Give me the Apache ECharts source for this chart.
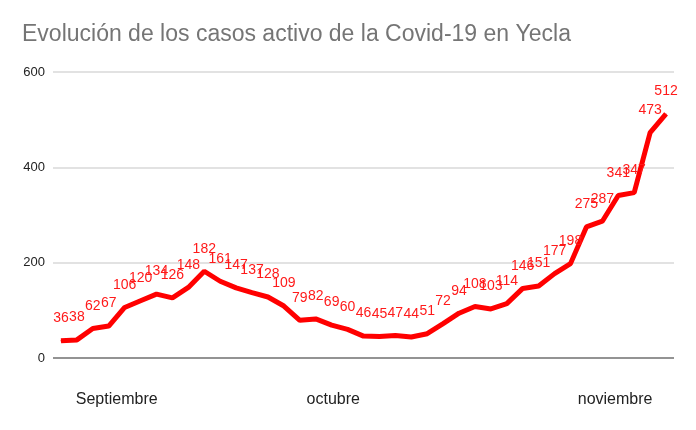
<!DOCTYPE html>
<html>
<head>
<meta charset="utf-8">
<script src="https://cdn.jsdelivr.net/npm/echarts@6/dist/echarts.min.js"></script>
<style>
  html, body { margin: 0; padding: 0; background: #fff; }
  #chart { width: 696px; height: 430px; }
</style>
</head>
<body>
<div id="chart"></div>
<script>
// casos activos, uno por día
const casos = [36, 38, 62, 67, 106, 120, 134, 126, 148, 182, 161, 147, 137, 128, 109,
  79, 82, 69, 60, 46, 45, 47, 44, 51, 72, 94, 108, 103, 114, 146, 151, 177, 198,
  275, 287, 341, 347, 473, 512];
const dias = casos.map((v, i) => 'd' + (i + 1));
const meses = ['Septiembre', 'octubre', 'noviembre'];
const posMeses = [3.5, 17.1, 34.8]; // posición de la etiqueta en índice de día
const ticksY = [0, 200, 400, 600];

const chart = echarts.init(document.getElementById('chart'), null, { renderer: 'canvas' });

const option = {
  animation: false,
  title: {
    text: 'Evolución de los casos activo de la Covid-19 en Yecla',
    left: 17,
    top: 18,
    textStyle: {
      fontFamily: 'Liberation Sans, Arial, sans-serif',
      fontSize: 23,
      fontWeight: 'normal',
      color: '#757575'
    }
  },
  grid: { left: 53, right: 22, top: 72, bottom: 72 },
  xAxis: [{
    type: 'category',
    data: dias,
    boundaryGap: true,
    axisLine: { show: false },
    axisTick: { show: false },
    axisLabel: { show: false },
    splitLine: { show: false }
  }, {
    type: 'value',
    position: 'bottom',
    min: -0.5,
    max: dias.length - 0.5,
    axisLine: { show: false },
    axisTick: { show: false },
    splitLine: { show: false },
    axisLabel: {
      customValues: posMeses,
      margin: 34,
      fontFamily: 'Liberation Sans, Arial, sans-serif',
      fontSize: 16,
      color: '#222',
      formatter: (v) => {
        const i = posMeses.indexOf(v);
        return i >= 0 ? meses[i] : '';
      }
    }
  }],
  yAxis: {
    type: 'value',
    min: ticksY[0],
    max: ticksY[ticksY.length - 1],
    interval: 200,
    axisLine: { show: false },
    axisTick: { show: false },
    axisLabel: {
      margin: 8,
      fontFamily: 'Liberation Sans, Arial, sans-serif',
      fontSize: 13,
      color: '#222'
    },
    splitLine: {
      lineStyle: {
        color: ['#6f6f6f', '#d9d9d9', '#d9d9d9', '#d9d9d9'],
        width: 1.5
      }
    }
  },
  series: [{
    type: 'line',
    xAxisIndex: 0,
    data: casos,
    symbol: 'circle',
    symbolSize: 1,
    showSymbol: true,
    lineStyle: { color: '#ff0000', width: 5 },
    itemStyle: { color: '#ff0000' },
    label: {
      show: true,
      position: 'top',
      distance: 15,
      fontFamily: 'Liberation Sans, Arial, sans-serif',
      fontSize: 14,
      color: '#ff1a1a'
    },
    labelLayout: { hideOverlap: false }
  }]
};

chart.setOption(option);
</script>
</body>
</html>
